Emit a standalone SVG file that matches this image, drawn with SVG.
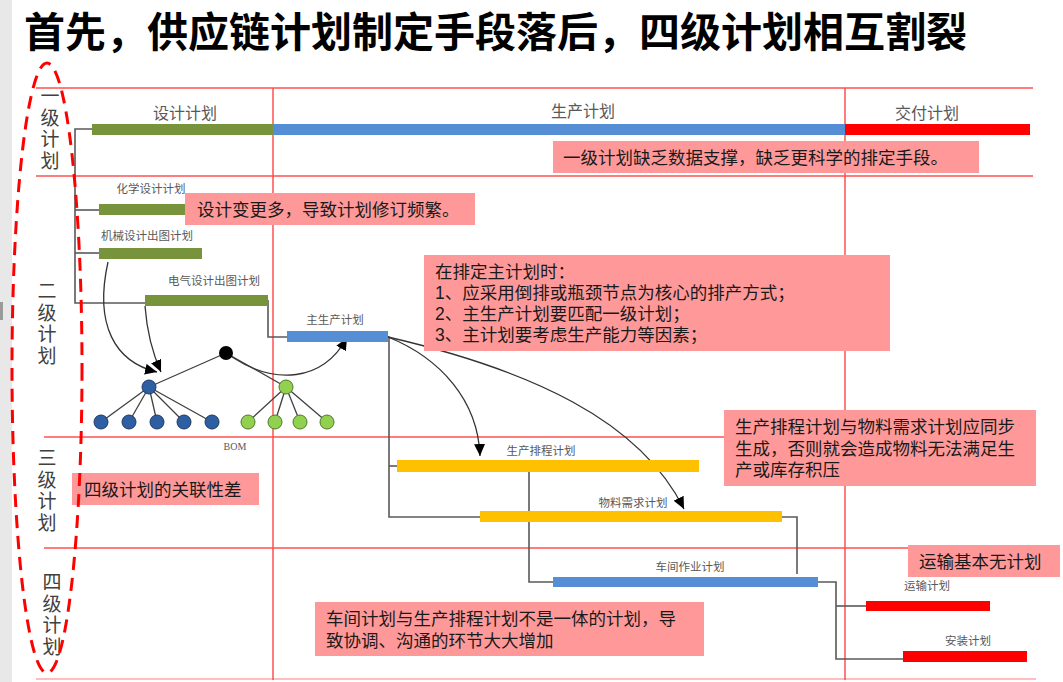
<svg xmlns="http://www.w3.org/2000/svg" width="1063" height="682" viewBox="0 0 1063 682">
<style>
.t{font-family:"Noto Sans CJK SC","Liberation Sans",sans-serif;}
.title{font-size:41px;font-weight:bold;fill:#000;}
.lvl{font-size:19px;fill:#404040;writing-mode:tb;glyph-orientation-vertical:0;text-orientation:upright;letter-spacing:2.5px;}
.big{font-size:16px;fill:#595959;text-anchor:middle;dominant-baseline:central;}
.sm{font-size:11.5px;fill:#595959;text-anchor:middle;dominant-baseline:central;}
.note{font-family:"Liberation Sans","Noto Sans CJK SC",sans-serif;font-size:17.5px;fill:#1a1a1a;dominant-baseline:central;}
.box{fill:#FF9999;}
.grid{stroke:#FF5050;stroke-width:1.5;fill:none;}
.conn{stroke:#595959;stroke-width:1.6;fill:none;}
.curve{stroke:#333;stroke-width:1.3;fill:none;marker-end:url(#ah);}
.gb{fill:#77933C;}
.bb{fill:#558ED5;}
.rb{fill:#FF0000;}
.yb{fill:#FFC000;}
.tree{stroke:#404040;stroke-width:1.3;}
.bn{fill:#2E5FA3;stroke:#1F3864;stroke-width:1;}
.gn{fill:#92D050;stroke:#4E7A27;stroke-width:1;}
</style>
<defs>
<marker id="ah" markerUnits="userSpaceOnUse" markerWidth="13" markerHeight="11" refX="12" refY="5.5" orient="auto">
<path d="M0,0 L12,5.5 L0,11 z" fill="#000"/>
</marker>
</defs>
<rect x="0" y="0" width="1063" height="682" fill="#fff"/>
<rect x="0" y="0" width="12" height="682" fill="#E8E8E8"/>
<rect x="0" y="302" width="3" height="18" fill="#9a9a9a"/>
<text class="t title" x="24" y="47">首先，供应链计划制定手段落后，四级计划相互割裂</text>

<g id="grid">
<line class="grid" x1="36" y1="88" x2="1033" y2="88"/>
<line class="grid" x1="36" y1="176" x2="1033" y2="176"/>
<line class="grid" x1="44" y1="437" x2="1036" y2="437"/>
<line class="grid" x1="44" y1="548" x2="1036" y2="548"/>
<line class="grid" x1="36" y1="679" x2="1036" y2="679" stroke-opacity="0.5"/>
<line class="grid" x1="273" y1="88" x2="273" y2="680"/>
<line class="grid" x1="845" y1="88" x2="845" y2="680"/>
</g>

<g id="levels">
<text class="t lvl" x="50" y="86.5">一级计划</text>
<text class="t lvl" x="47" y="281.5">二级计划</text>
<text class="t lvl" x="47" y="448.5">三级计划</text>
<text class="t lvl" x="52" y="572.5">四级计划</text>
</g>

<g id="connectors">
<polyline class="conn" points="92,129 75,129 75,303 145,303"/>
<line class="conn" x1="75" y1="210" x2="99" y2="210"/>
<line class="conn" x1="75" y1="253" x2="99" y2="253"/>
<polyline class="conn" points="268,300 268,337 287,337"/>
<polyline class="conn" points="388,337 389,337 389,517 480,517"/>
<line class="conn" x1="389" y1="466" x2="397" y2="466"/>
<polyline class="conn" points="529,466 529,582 553,582"/>
<polyline class="conn" points="782,517 797,517 797,574"/>
<polyline class="conn" points="818,582 836,582 836,659 903,659"/>
<line class="conn" x1="836" y1="606" x2="866" y2="606"/>
<path class="curve" d="M108,262 C94,325 115,362 157,372"/>
<path class="curve" d="M145,306 C147,333 152,352 161,372"/>
<path class="curve" d="M232,357 C275,385 322,382 347,338"/>
<path class="curve" d="M388,337 C440,358 478,400 480,456"/>
<path class="curve" d="M388,337 C530,370 640,420 684,509"/>
</g>

<g id="level1">
<rect class="gb" x="92" y="124" width="181" height="11"/>
<rect class="bb" x="273" y="124" width="572" height="11"/>
<rect class="rb" x="845" y="124" width="185" height="11"/>
<text class="t big" x="185" y="112">设计计划</text>
<text class="t big" x="583" y="110">生产计划</text>
<text class="t big" x="927" y="112">交付计划</text>
</g>

<g id="level2">
<rect class="gb" x="99" y="204" width="95" height="11"/>
<text class="t sm" x="151" y="188">化学设计计划</text>
<rect class="gb" x="99" y="248" width="103" height="11"/>
<text class="t sm" x="147" y="235">机械设计出图计划</text>
<rect class="gb" x="145" y="295" width="123" height="11"/>
<text class="t sm" x="214" y="280">电气设计出图计划</text>
<rect class="bb" x="287" y="331" width="101" height="11"/>
<text class="t sm" x="335" y="319">主生产计划</text>
</g>

<g id="bom">
<line class="tree" x1="226" y1="353" x2="149" y2="387"/>
<line class="tree" x1="226" y1="353" x2="286" y2="387"/>
<line class="tree" x1="149" y1="387" x2="101" y2="422"/>
<line class="tree" x1="149" y1="387" x2="129" y2="422"/>
<line class="tree" x1="149" y1="387" x2="157" y2="422"/>
<line class="tree" x1="149" y1="387" x2="184" y2="422"/>
<line class="tree" x1="149" y1="387" x2="212" y2="422"/>
<line class="tree" x1="286" y1="387" x2="248" y2="422"/>
<line class="tree" x1="286" y1="387" x2="275" y2="422"/>
<line class="tree" x1="286" y1="387" x2="300" y2="422"/>
<line class="tree" x1="286" y1="387" x2="327" y2="422"/>
<circle cx="226" cy="353" r="7" fill="#000"/>
<circle class="bn" cx="149" cy="387" r="7"/>
<circle class="gn" cx="286" cy="387" r="7"/>
<circle class="bn" cx="101" cy="422" r="7"/>
<circle class="bn" cx="129" cy="422" r="7"/>
<circle class="bn" cx="157" cy="422" r="7"/>
<circle class="bn" cx="184" cy="422" r="7"/>
<circle class="bn" cx="212" cy="422" r="7"/>
<circle class="gn" cx="248" cy="422" r="7"/>
<circle class="gn" cx="275" cy="422" r="7"/>
<circle class="gn" cx="300" cy="422" r="7"/>
<circle class="gn" cx="327" cy="422" r="7"/>
<text x="235" y="446" font-family="Liberation Serif,serif" font-size="10" fill="#595959" text-anchor="middle" dominant-baseline="central">BOM</text>
</g>

<g id="level3">
<rect class="yb" x="397" y="460" width="302" height="12"/>
<text class="t sm" x="541" y="450">生产排程计划</text>
<rect class="yb" x="480" y="511" width="302" height="11"/>
<text class="t sm" x="633" y="502">物料需求计划</text>
</g>

<g id="level4">
<rect class="bb" x="553" y="577" width="265" height="10"/>
<text class="t sm" x="690" y="566">车间作业计划</text>
<rect class="rb" x="866" y="601" width="124" height="10"/>
<text class="t sm" x="927" y="585">运输计划</text>
<rect class="rb" x="903" y="651" width="124" height="11"/>
<text class="t sm" x="968" y="640">安装计划</text>
</g>

<g id="note-design">
<rect class="box" x="185" y="193" width="290" height="32"/>
<text class="note" x="197" y="210">设计变更多，导致计划修订频繁。</text>
</g>
<g id="note-level1">
<rect class="box" x="553" y="141" width="426" height="32"/>
<text class="note" x="563" y="158">一级计划缺乏数据支撑，缺乏更科学的排定手段。</text>
</g>
<g id="note-master">
<rect class="box" x="424" y="255" width="466" height="96"/>
<text class="note" x="435" y="272">在排定主计划时：</text>
<text class="note" x="435" y="293">1、应采用倒排或瓶颈节点为核心的排产方式；</text>
<text class="note" x="435" y="314">2、主生产计划要匹配一级计划；</text>
<text class="note" x="435" y="335">3、主计划要考虑生产能力等因素；</text>
</g>
<g id="note-sync">
<rect class="box" x="724" y="410" width="312" height="76"/>
<text class="note" x="735" y="427">生产排程计划与物料需求计划应同步</text>
<text class="note" x="735" y="448.5">生成，否则就会造成物料无法满足生</text>
<text class="note" x="735" y="470">产或库存积压</text>
</g>
<g id="note-transport">
<rect class="box" x="908" y="545" width="152" height="32"/>
<text class="note" x="919" y="562">运输基本无计划</text>
</g>
<g id="note-relation">
<rect class="box" x="72" y="473" width="187" height="32"/>
<text class="note" x="84" y="490">四级计划的关联性差</text>
</g>
<g id="note-workshop">
<rect class="box" x="315" y="602" width="389" height="54"/>
<text class="note" x="326" y="619">车间计划与生产排程计划不是一体的计划，导</text>
<text class="note" x="326" y="641">致协调、沟通的环节大大增加</text>
</g>

<ellipse id="scope" cx="47" cy="368" rx="35" ry="305" fill="none" stroke="#FF0000" stroke-width="3" stroke-dasharray="13,8"/>
</svg>
